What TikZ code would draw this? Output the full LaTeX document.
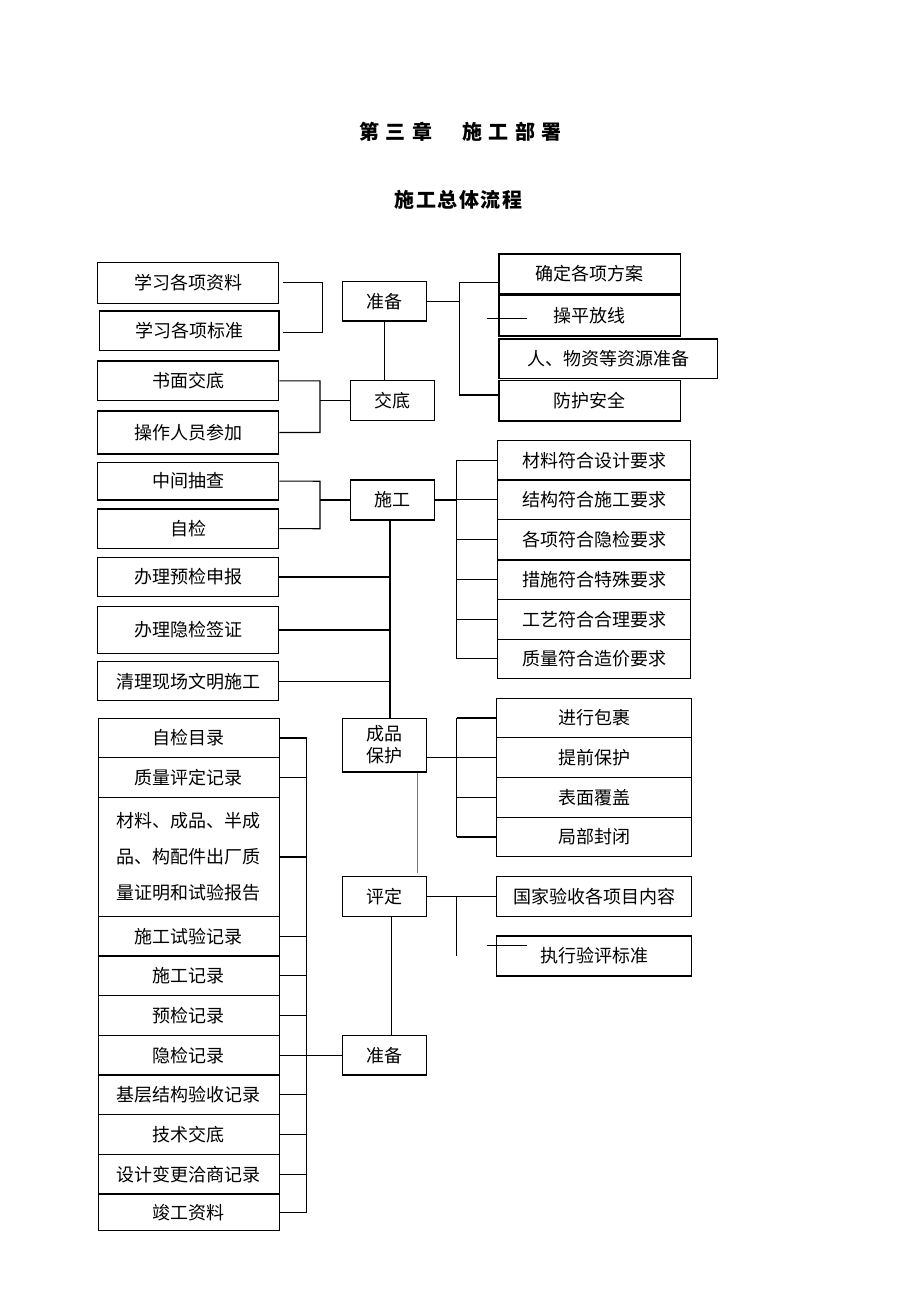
\documentclass[tikz,border=0pt]{standalone}
\usepackage{fontspec}
\setmainfont{Noto Sans CJK SC}
\newcommand{\boxat}[6]{%
  \node[box, minimum width={#4-#2}, minimum height={#5-#3}] (#1) at ({(#2+#4)/2},{(#3+#5)/2}) {#6};}
\newcommand{\tsp}{\hspace{6.5pt}}
\begin{document}
\begin{tikzpicture}[x=1pt,y=-1pt,
  box/.style={draw, line width=1.2pt, inner sep=0pt, align=center, font=\fontsize{18}{22}\selectfont},
  ln/.style={line width=1.1pt},
  ttl/.style={font=\bfseries\fontsize{20}{24}\selectfont}]
\useasboundingbox[fill=white] (0,0) rectangle (920,1302);

% titles
\node[ttl] (t1) at (460.4,131.7) {第\tsp 三\tsp 章\hspace{30pt}施\tsp 工\tsp 部\tsp 署};
\node[ttl] (t2) at (458.3,200) {施\hspace{1.5pt}工\hspace{1.5pt}总\hspace{1.5pt}体\hspace{1.5pt}流\hspace{1.5pt}程};

% left column (top)
\boxat{a1}{97.3}{262.3}{278.7}{303.3}{学习各项资料}
\boxat{a2}{99.3}{311}{279}{350.7}{学习各项标准}
\boxat{a3}{97.3}{361}{278.7}{400.7}{书面交底}
\boxat{a4}{97.3}{411}{278.7}{454}{操作人员参加}
\boxat{a5}{97.3}{462.3}{278.7}{500}{中间抽查}
\boxat{a6}{97.3}{509}{278.7}{548.3}{自检}
\boxat{a7}{97.3}{557.3}{278.7}{596.7}{办理预检申报}
\boxat{a8}{97.3}{606.7}{278.7}{653.3}{办理隐检签证}
\boxat{a9}{97.3}{661.7}{278.7}{700.7}{清理现场文明施工}

% left column (bottom)
\boxat{l1}{98.3}{718.3}{279.3}{757.7}{自检目录}
\boxat{l2}{98.3}{757.7}{279.3}{797.3}{质量评定记录}
\node[box, minimum width=181, minimum height=119.4, font=\fontsize{18}{36}\selectfont] (l3) at (188.8,857) {材料、成品、半成\\品、构配件出厂质\\量证明和试验报告};
\boxat{l4}{98.3}{916.7}{279.3}{956}{施工试验记录}
\boxat{l5}{98.3}{956}{279.3}{995.7}{施工记录}
\boxat{l6}{98.3}{995.7}{279.3}{1035.3}{预检记录}
\boxat{l7}{98.3}{1035.3}{279.3}{1075}{隐检记录}
\boxat{l8}{98.3}{1075}{279.3}{1114.3}{基层结构验收记录}
\boxat{l9}{98.3}{1114.3}{279.3}{1154.3}{技术交底}
\boxat{l10}{98.3}{1154.3}{279.3}{1194}{设计变更洽商记录}
\boxat{l11}{98.3}{1194}{279.3}{1230.7}{竣工资料}

% middle column
\boxat{m1}{342.7}{281.7}{426.7}{321}{准备}
\boxat{m2}{350.7}{380.7}{434.7}{420.7}{交底}
\boxat{m3}{350.7}{480}{434.7}{520}{施工}
\boxat{m4}{342.7}{718.3}{426.7}{772}{成品\\保护}
\boxat{m5}{342.7}{876.7}{426.7}{916.7}{评定}
\boxat{m6}{342.7}{1035.3}{426.7}{1075}{准备}

% right column (top)
\boxat{r1}{499}{254}{680.3}{293.3}{确定各项方案}
\boxat{r2}{499}{295}{680.3}{336}{操平放线}
\boxat{r3}{499}{339}{717.7}{378.7}{人、物资等资源准备}
\boxat{r4}{499}{380.7}{680.3}{421}{防护安全}

% right column (construction requirements)
\boxat{b1}{497.3}{440.7}{690.7}{480}{材料符合设计要求}
\boxat{b2}{497.3}{480}{690.7}{519.3}{结构符合施工要求}
\boxat{b3}{497.3}{519.3}{690.7}{560}{各项符合隐检要求}
\boxat{b4}{497.3}{560}{690.7}{599.3}{措施符合特殊要求}
\boxat{b5}{497.3}{599.3}{690.7}{639.3}{工艺符合合理要求}
\boxat{b6}{497.3}{639.3}{690.7}{678.3}{质量符合造价要求}

% right column (protection)
\boxat{p1}{496.7}{698.3}{691.7}{737.7}{进行包裹}
\boxat{p2}{496.7}{737.7}{691.7}{777.7}{提前保护}
\boxat{p3}{496.7}{777.7}{691.7}{817.3}{表面覆盖}
\boxat{p4}{496.7}{817.3}{691.7}{856.7}{局部封闭}

% right column (evaluation)
\boxat{e1}{496.7}{876.7}{691.7}{916.7}{国家验收各项目内容}
\boxat{e2}{496.7}{936}{691.7}{976}{执行验评标准}

% ---- connectors ----
% bracket a1/a2 (free-standing)
\coordinate (q1) at (282.7,282.3);
\coordinate (q2) at (322.7,282.3);
\coordinate (q3) at (322.7,332.7);
\coordinate (q4) at (282.7,332.7);
\draw[ln] (q1) -- (q2) -- (q3) -- (q4);

% m1 to top right tree
\coordinate (k1) at (459.3,282.3);
\coordinate (k2) at (459.3,395);
\draw[ln] (m1.east) -- (m1.east -| k1);
\draw[ln] (k1 -| r1.west) -- (k1) -- (k2) -- (k2 -| r4.west);
\coordinate (s1a) at (486.7,318.3);
\coordinate (s1b) at (527.3,318.3);
\draw[ln] (s1a) -- (s1b);

% m1 to m2
\draw[ln] (m1.south) -- (m1.south |- m2.north);

% bracket a3/a4 -> m2
\coordinate (v1) at (320,380.9);
\coordinate (v2) at (320,432.5);
\draw[ln] (a3.east) -- (v1) -- (v2) -- (a4.east);
\draw[ln] (v1 |- m2.west) -- (m2.west);

% bracket a5/a6 -> m3
\coordinate (v3) at (320,481.2);
\coordinate (v4) at (320,528.7);
\draw[ln] (a5.east) -- (v3) -- (v4) -- (a6.east);
\draw[ln] (v3 |- m3.west) -- (m3.west);

% m3 right tree
\coordinate (w1) at (456.7,460.3);
\coordinate (w2) at (456.7,658.8);
\draw[ln] (w1) -- (w2);
\foreach \b in {b1,b2,b3,b4,b5,b6} \draw[ln] (\b.west -| w1) -- (\b.west);
\draw[ln] (m3.east) -- (m3.east -| w1);

% m3 down to m4 with a7..a9
\coordinate (d1) at (390,0);
\draw[ln] (m3.south -| d1) -- (m4.north -| d1);
\foreach \a in {a7,a8,a9} \draw[ln] (\a.east) -- (\a.east -| d1);

% m4 right tree
\coordinate (w3) at (456.7,718);
\coordinate (w4) at (456.7,837);
\draw[ln] (w3) -- (w4);
\foreach \p in {p1,p2,p3,p4} \draw[ln] (\p.west -| w3) -- (\p.west);
\draw[ln] (m4.east |- p2.west) -- (p2.west -| w3);

% grey line below m4
\coordinate (g1) at (417.3,872.7);
\draw[line width=1pt, black!55] (m4.south -| g1) -- (g1);

% m5 right tree
\draw[ln] (m5.east) -- (e1.west);
\coordinate (w5) at (456.7,896.7);
\coordinate (w6) at (456.7,955.7);
\draw[ln] (w5) -- (w6);
\coordinate (s2a) at (486.7,945.3);
\coordinate (s2b) at (526.7,945.3);
\draw[ln] (s2a) -- (s2b);

% m5 down to m6
\coordinate (d3) at (391.7,0);
\draw[ln] (m5.south -| d3) -- (m6.north -| d3);

% bottom-left bracket
\coordinate (lb1) at (306.7,738);
\coordinate (lb2) at (306.7,1212.4);
\draw[ln] (lb1) -- (lb2);
\foreach \l in {l1,l2,l3,l4,l5,l6,l8,l9,l10,l11} \draw[ln] (\l.east) -- (\l.east -| lb1);
\draw[ln] (l7.east) -- (m6.west);
\end{tikzpicture}
\end{document}
